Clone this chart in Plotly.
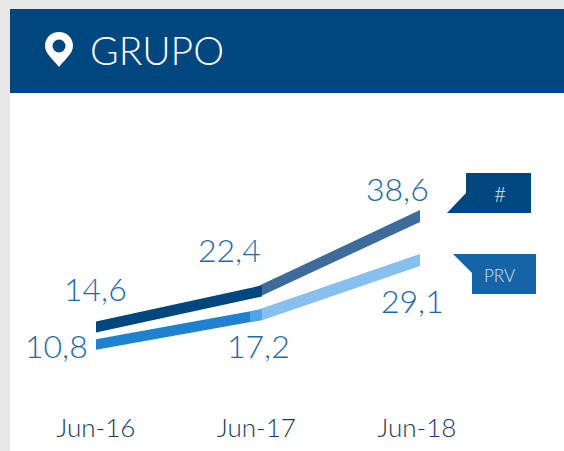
import plotly.graph_objects as go

W, H = 564, 451
periods = ["Jun-16", "Jun-17", "Jun-18"]
grupo_hash = [14.6, 22.4, 38.6]
grupo_prv = [10.8, 17.2, 29.1]
hash_labels = ["14,6", "22,4", "38,6"]
prv_labels = ["10,8", "17,2", "29,1"]
x_pos = [0, 1.012, 2]

FONT = "Lato"
NAVY = "#00467f"
MID = "#1564a8"
TXT = "#1f68a8"


def px(x):
    return x / W


def py(y):
    return 1 - y / H


def poly(points, color):
    d = "M" + " L".join(f"{px(x):.5f},{py(y):.5f}" for x, y in points) + " Z"
    return dict(type="path", xref="paper", yref="paper", path=d,
                fillcolor=color, line=dict(width=0), layer="below")


def band(x0, x1, v0, v1, h0, h1, color):
    return go.Scatter(x=[x0, x1, x1, x0, x0],
                      y=[v0 + h0, v1 + h1, v1 - h1, v0 - h0, v0 + h0],
                      mode="lines", fill="toself", fillcolor=color,
                      line=dict(width=0), hoverinfo="skip",
                      xaxis="x2", yaxis="y", showlegend=False)


def lerp(a, b, t):
    return a + (b - a) * t


fig = go.Figure()
hh = 1.2  # half thickness, value units
fig.add_trace(band(x_pos[1], x_pos[2], grupo_hash[1], grupo_hash[2], hh, 1.3, "#3d6c9b"))
fig.add_trace(band(x_pos[0], x_pos[1] + 0.012, grupo_hash[0], grupo_hash[1], hh, hh, NAVY))
fig.add_trace(band(x_pos[0], x_pos[1], grupo_prv[0], grupo_prv[1], 1.15, 1.15, "#1e82d0"))
fig.add_trace(band(x_pos[1], x_pos[2], grupo_prv[1], grupo_prv[2], 1.3, 1.3, "#87bfee"))
t = 0.94
fig.add_trace(band(x_pos[1] * t, x_pos[1] + 0.012,
                   lerp(grupo_prv[0], grupo_prv[1], t), grupo_prv[1] + 0.1,
                   1.15, 1.2, "#50a5e8"))

# Invisible trace that owns the tick axis
fig.add_trace(go.Scatter(x=[0, 1, 2], y=grupo_hash, mode="none", xaxis="x",
                         yaxis="y", showlegend=False, hoverinfo="skip"))

shapes = [
    poly([(10, 93), (564, 93), (564, 451), (10, 451)], "#ffffff"),
    poly([(10, 9), (564, 9), (564, 93), (10, 93)], NAVY),
    poly([(466, 173), (531, 173), (531, 213), (447, 213), (466, 193)], NAVY),
    poly([(453, 254), (536, 254), (536, 294), (472, 294), (472, 273)], MID),
    dict(type="path", xref="paper", yref="paper", fillcolor="#ffffff",
         line=dict(width=0),
         path=(f"M{px(59):.5f},{py(67):.5f} "
               f"C{px(54):.5f},{py(60):.5f} {px(45):.5f},{py(54):.5f} {px(45):.5f},{py(46):.5f} "
               f"C{px(45):.5f},{py(38):.5f} {px(51):.5f},{py(32):.5f} {px(59):.5f},{py(32):.5f} "
               f"C{px(67):.5f},{py(32):.5f} {px(73):.5f},{py(38):.5f} {px(73):.5f},{py(46):.5f} "
               f"C{px(73):.5f},{py(54):.5f} {px(64):.5f},{py(60):.5f} {px(59):.5f},{py(67):.5f} Z")),
    dict(type="circle", xref="paper", yref="paper", fillcolor=NAVY,
         line=dict(width=0), x0=px(52.5), x1=px(65.5), y0=py(52.5), y1=py(39.5)),
]


def value_note(x, v, text, dx, dy):
    return dict(x=x, y=v, xref="x2", yref="y", text=text, showarrow=False,
                xshift=dx, yshift=dy, xanchor="center", yanchor="middle",
                font=dict(family=FONT, size=32, color=TXT, weight=300))


def paper_note(x, y, text, size, color):
    return dict(x=px(x), y=py(y), xref="paper", yref="paper", text=text,
                showarrow=False, xanchor="center", yanchor="middle",
                font=dict(family=FONT, size=size, color=color, weight=300))


notes = [
    value_note(x_pos[0], grupo_hash[0], hash_labels[0], -1, 38),
    value_note(x_pos[1], grupo_hash[1], hash_labels[1], -30, 41),
    value_note(x_pos[2], grupo_hash[2], hash_labels[2], -23, 27),
    value_note(x_pos[0], grupo_prv[0], prv_labels[0], -40, -1),
    value_note(x_pos[1], grupo_prv[1], prv_labels[1], -1, -31),
    value_note(x_pos[2], grupo_prv[2], prv_labels[2], -8, -41),
    paper_note(157, 50, "GRUPO", 39, "#ffffff"),
    paper_note(500, 193, "#", 21, "#d5e3f0"),
    paper_note(499, 275, "PRV", 17, "#d5e3f0"),
]

fig.update_layout(
    template="none",
    width=W, height=H, margin=dict(l=0, r=0, t=0, b=0, pad=0, autoexpand=False),
    paper_bgcolor="#e8e8e8", plot_bgcolor="rgba(0,0,0,0)",
    showlegend=False, shapes=shapes, annotations=notes,
    xaxis=dict(domain=[px(96), px(417)], range=[0, 2], tickvals=[0, 1, 2],
               ticktext=periods, ticks="outside", ticklen=10,
               tickcolor="rgba(0,0,0,0)", showgrid=False, zeroline=False,
               showline=False, anchor="y", automargin=False,
               tickfont=dict(family=FONT, size=26, color="#24375c", weight=300)),
    xaxis2=dict(domain=[px(96), px(420)], range=[0, 2], visible=False,
                anchor="y", automargin=False),
    yaxis=dict(domain=[py(394.5), py(170)], range=[0, 48.54], visible=False,
               automargin=False),
)

fig.write_html("out.html", config={"displayModeBar": False},
               post_script="document.body.style.margin='0';document.body.style.background='#e8e8e8';")
